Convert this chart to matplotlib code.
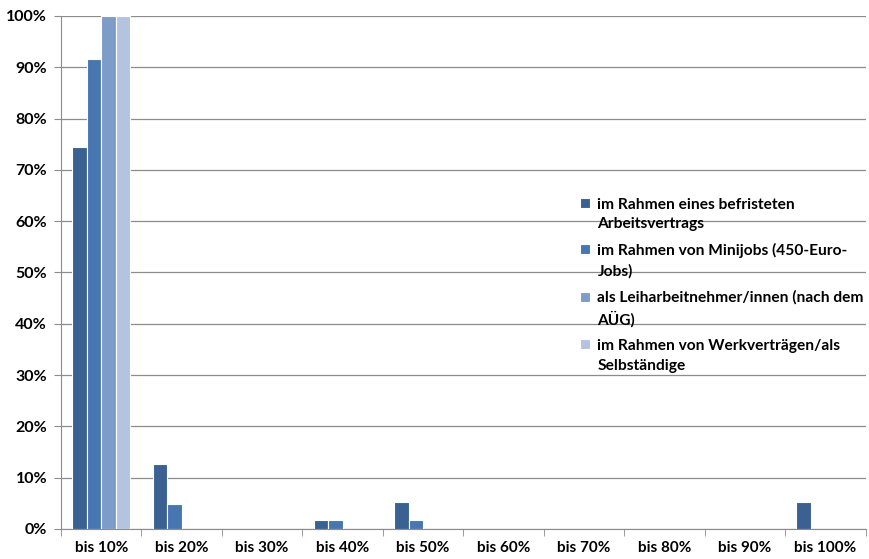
import numpy as np
import matplotlib.pyplot as plt
from matplotlib.patches import Rectangle
from matplotlib.legend_handler import HandlerPatch
from matplotlib.ticker import FixedLocator, NullFormatter

categories = ['bis 10%', 'bis 20%', 'bis 30%', 'bis 40%', 'bis 50%',
              'bis 60%', 'bis 70%', 'bis 80%', 'bis 90%', 'bis 100%']
befristet = [74.5, 12.7, 0, 1.7, 5.3, 0, 0, 0, 0, 5.3]
minijobs = [91.7, 4.9, 0, 1.7, 1.7, 0, 0, 0, 0, 0]
leiharbeit = [100, 0, 0, 0, 0, 0, 0, 0, 0, 0]
werkvertrag = [100, 0, 0, 0, 0, 0, 0, 0, 0, 0]
labels = ['im Rahmen eines befristeten\nArbeitsvertrags',
          'im Rahmen von Minijobs (450-Euro-\nJobs)',
          'als Leiharbeitnehmer/innen (nach dem\nAÜG)',
          'im Rahmen von Werkverträgen/als\nSelbständige']
yticks = np.arange(0, 101, 10)

plt.rcParams['font.family'] = ['Lato', 'DejaVu Sans']

colors = ['#3b6192', '#4776b0', '#7e9cc8', '#b4c4df']
series = [befristet, minijobs, leiharbeit, werkvertrag]

def top_square(legend, orig_handle, xdescent, ydescent, width, height, fontsize):
  # put the legend square next to the first line of a two-line label
  return Rectangle((-xdescent, -ydescent + 0.75 * fontsize), width, height)

fig = plt.figure(figsize=(8.69, 5.59), dpi=100)
ax = fig.add_axes([0.0702, 0.0537, 0.926, 0.9177])
x = np.arange(len(categories))
w = 0.18
bars = []
for i, (vals, c, lab) in enumerate(zip(series, colors, labels)):
  b = ax.bar(x + (i - 1.5) * w, vals, width=w, color=c, edgecolor='white',
             linewidth=0.8, label=lab, zorder=3)
  bars.append(b)

ax.set_xlim(-0.5, len(categories) - 0.5)
ax.set_ylim(0, 100)
ax.set_yticks(yticks)
ax.set_yticklabels(['%d%%' % t for t in yticks], fontsize=11.5, weight='bold')
ax.set_xticks(x)
ax.set_xticklabels(categories, fontsize=11, weight='bold')
ax.tick_params(axis='x', which='major', length=0, pad=9)
ax.xaxis.set_minor_locator(FixedLocator(np.arange(-0.5, len(categories), 1)))
ax.xaxis.set_minor_formatter(NullFormatter())
ax.tick_params(axis='x', which='minor', length=5, color='#8c8c8c')
ax.tick_params(axis='y', length=5, color='#8c8c8c', pad=5)
ax.grid(axis='y', color='#8c8c8c', linewidth=0.9, zorder=0)
for s in ['top', 'right']:
  ax.spines[s].set_visible(False)
for s in ['left', 'bottom']:
  ax.spines[s].set_color('#8c8c8c')

handles = [b.patches[0] for b in bars]
leg = ax.legend(handles, labels, loc='upper left', bbox_to_anchor=(0.628, 0.673),
                frameon=False, prop={'weight': 'bold', 'size': 11.2},
                handlelength=0.6, handleheight=0.6, handletextpad=0.5,
                labelspacing=0.75,
                handler_map={Rectangle: HandlerPatch(patch_func=top_square)})
for t in leg.get_texts():
  t.set_linespacing(1.5)

fig.savefig('out.png', dpi=100)
